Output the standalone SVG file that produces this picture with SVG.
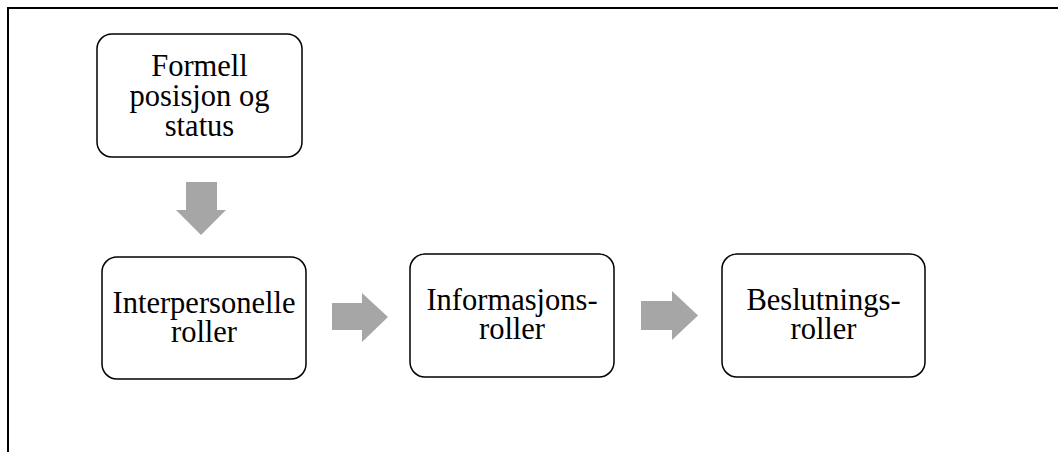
<svg xmlns="http://www.w3.org/2000/svg" width="1058" height="452" viewBox="0 0 1058 452">
<style>
.box{fill:#fff;stroke:#000;stroke-width:1.5}
.lbl{font-family:"Liberation Serif","Times New Roman",serif;font-size:30.5px;fill:#000;text-anchor:middle}
.arr{fill:#a6a6a6;stroke:none}
.frame{fill:none;stroke:#000;stroke-width:2}
</style>
<rect width="1058" height="452" fill="#fff"/>
<path class="frame" d="M8,452 V8 H1058"/>
<g id="node-formell">
<rect class="box" x="97" y="34" width="205" height="123" rx="15"/>
<text class="lbl" x="199.5" y="76">Formell</text>
<text class="lbl" x="199.5" y="106">posisjon og</text>
<text class="lbl" x="199.5" y="136">status</text>
</g>
<g id="node-interpersonelle">
<rect class="box" x="102" y="257" width="204" height="122" rx="15"/>
<text class="lbl" x="204" y="313">Interpersonelle</text>
<text class="lbl" x="204" y="342">roller</text>
</g>
<g id="node-informasjons">
<rect class="box" x="410" y="254" width="204" height="123" rx="15"/>
<text class="lbl" x="512" y="310">Informasjons-</text>
<text class="lbl" x="512" y="339">roller</text>
</g>
<g id="node-beslutnings">
<rect class="box" x="722" y="254" width="203" height="123" rx="15"/>
<text class="lbl" x="823.5" y="310">Beslutnings-</text>
<text class="lbl" x="823.5" y="339">roller</text>
</g>
<g id="connectors">
<polygon class="arr" points="186,182 217,182 217,210 226,210 201,235 176,210 186,210"/>
<polygon class="arr" points="332,303 362,303 362,293 388,317 362,342 362,330 332,330"/>
<polygon class="arr" points="641,301 672,301 672,291 698,315.5 672,340 672,330 641,330"/>
</g>
</svg>
